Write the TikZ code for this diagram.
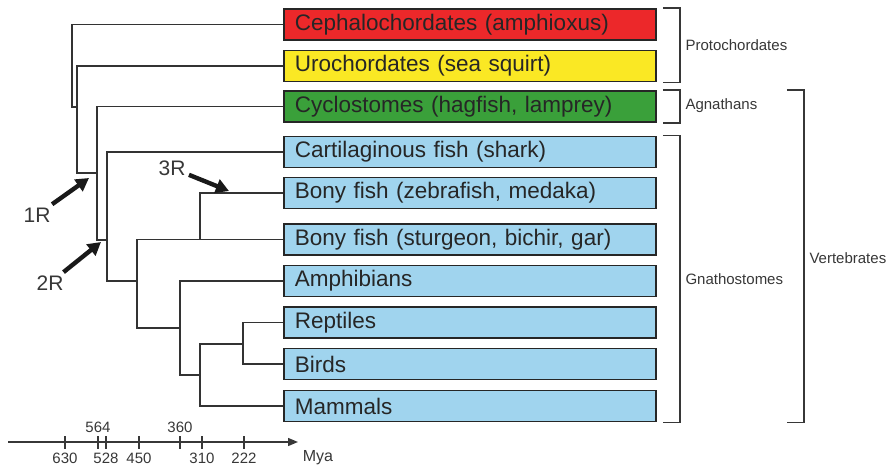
\documentclass[tikz,border=0pt]{standalone}
\usepackage{fontspec}
\setmainfont{Liberation Sans}
\usepackage{xcolor}
\usepackage{tikz}
\usetikzlibrary{arrows.meta, positioning, calc}
\definecolor{cephred}{RGB}{236, 40, 42}
\definecolor{uroyellow}{RGB}{250, 232, 36}
\definecolor{cycgreen}{RGB}{58, 160, 58}
\definecolor{gnablue}{RGB}{160, 212, 238}
\definecolor{inkgray}{RGB}{55, 55, 55}

\begin{document}
\begin{tikzpicture}[x=1pt, y=-1pt,
    taxon/.style={draw=black!85, line width=1.8pt, anchor=west, text width=350pt,
        inner xsep=11pt, inner ysep=0pt, minimum height=31pt, align=left,
        font=\fontsize{22.5}{26}\selectfont, text=black!85},
    branch/.style={line width=1.6pt, black!80},
    brk/.style={line width=1.5pt, inkgray},
    grp/.style={anchor=west, font=\fontsize{15}{18}\selectfont, text=inkgray},
    dup/.style={line width=4.4pt, black!90, -{Triangle[length=13pt, width=14pt]}},
    dupl/.style={font=\fontsize{21}{24}\selectfont, text=inkgray},
    yrlab/.style={font=\fontsize{15}{18}\selectfont, text=inkgray}]
        \useasboundingbox (0,0) rectangle (889,468);

        % Taxa boxes
        \node[taxon, fill=cephred] (cep) at (283,24.5) {Cephalochordates (amphioxus)};
        \node[taxon, fill=uroyellow] (uro) at (283,66) {Urochordates (sea squirt)};
        \node[taxon, fill=cycgreen] (cyc) at (283,106.5) {Cyclostomes (hagfish, lamprey)};
        \node[taxon, fill=gnablue] (car) at (283,152) {Cartilaginous fish (shark)};
        \node[taxon, fill=gnablue] (zeb) at (283,193) {Bony fish (zebrafish, medaka)};
        \node[taxon, fill=gnablue] (stu) at (283,239.5) {Bony fish (sturgeon, bichir, gar)};
        \node[taxon, fill=gnablue] (amp) at (283,281) {Amphibians};
        \node[taxon, fill=gnablue] (rep) at (283,322.5) {Reptiles};
        \node[taxon, fill=gnablue] (bir) at (283,364) {Birds};
        \node[taxon, fill=gnablue] (mam) at (283,406) {Mammals};

        % Tree
        \coordinate (r0) at (72,107);
        \coordinate (a1) at (77,173);
        \coordinate (a2) at (97,240);
        \coordinate (a3) at (107,281);
        \coordinate (a4) at (137,328);
        \coordinate (a5) at (180,375);
        \coordinate (a6) at (200,344);
        \coordinate (tel) at (200,239.5);
        \coordinate (rb) at (243,344);
        \draw[branch] (cep.west) -| (r0) -- (r0 -| a1);
        \draw[branch] (uro.west) -| (a1) -- (a1 -| a2);
        \draw[branch] (cyc.west) -| (a2) -- (a2 -| a3);
        \draw[branch] (car.west) -| (a3) -- (a3 -| a4);
        \draw[branch] (stu.west) -| (a4) -- (a4 -| a5);
        \draw[branch] (zeb.west) -| (tel);
        \draw[branch] (amp.west) -| (a5) -- (a5 -| a6);
        \draw[branch] (mam.west) -| (a6) -- (rb);
        \draw[branch] (rep.west) -| (rb) |- (bir.west);

        % Duplication rounds
        \node[dupl] (l1) at (37,215) {1R};
        \node[dupl] (l2) at (50,283) {2R};
        \node[dupl] (l3) at (172,168) {3R};
        \coordinate (h1) at (89,178);
        \coordinate (h2) at (101,242);
        \coordinate (h3) at (229,191);
        \draw[dup] (l1) -- (h1);
        \draw[dup] (l2) -- (h2);
        \draw[dup] (l3) -- (h3);

        % Brackets
        \draw[brk] ([xshift=6pt]cep.north east) -| ([xshift=23pt]uro.south east) -- ([xshift=6pt]uro.south east);
        \draw[brk] ([xshift=6pt]cyc.north east) -| ([xshift=23pt]cyc.south east) -- ([xshift=6pt]cyc.south east);
        \draw[brk] ([xshift=6pt]car.north east) -| ([xshift=23pt]mam.south east) -- ([xshift=6pt]mam.south east);
        \draw[brk] ([xshift=130pt]cyc.north east) -| ([xshift=147pt]mam.south east) -- ([xshift=130pt]mam.south east);
        \node[grp] (proto) at (682,45) {Protochordates};
        \node[grp] (agna) at (682,106) {Agnathans};
        \node[grp] (gnat) at (682,279) {Gnathostomes};
        \node[grp] (vert) at (806,258) {Vertebrates};

        % Time axis
        \coordinate (ax0) at (8,442);
        \coordinate (ax1) at (298,442);
        \draw[line width=1.4pt, inkgray, -{Triangle[length=10pt, width=8pt]}] (ax0) -- (ax1);
        \foreach \x/\yr/\ly in {65/630/458, 98/564/427, 106/528/458, 139/450/458, 180/360/427, 202/310/458, 244/222/458} {
            \draw[line width=1.4pt, inkgray] (\x,436) -- (\x,449);
            \node[yrlab] at (\x,\ly) {\yr};
        }
        \node[yrlab, font=\fontsize{16}{18}\selectfont] (mya) at (318,458) {Mya};
    \end{tikzpicture}
\end{document}
